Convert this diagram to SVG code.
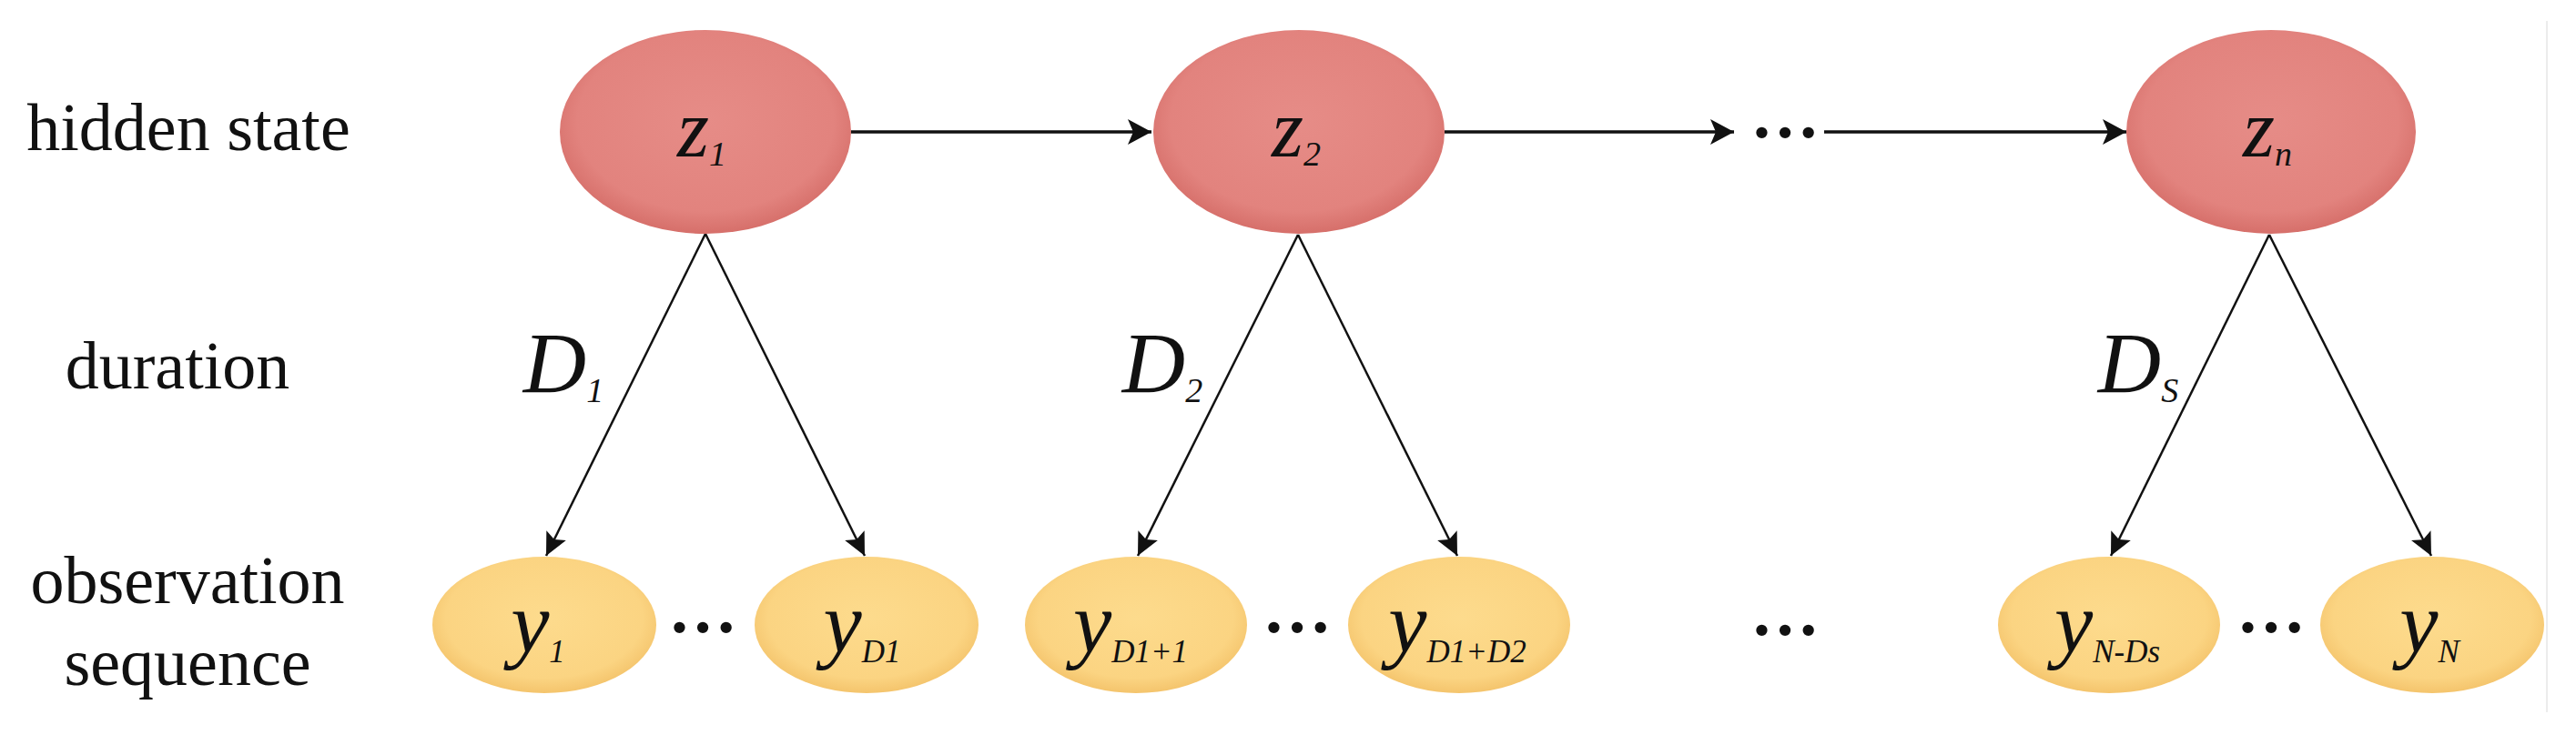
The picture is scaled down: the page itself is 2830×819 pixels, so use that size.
<svg xmlns="http://www.w3.org/2000/svg" width="2830" height="819" viewBox="0 0 2830 819">
<defs>
<radialGradient id="gRed" cx="50%" cy="45%" r="55%">
<stop offset="0%" stop-color="#e68c87"/>
<stop offset="80%" stop-color="#e2837e"/>
<stop offset="100%" stop-color="#d66f6a"/>
</radialGradient>
<radialGradient id="gYel" cx="50%" cy="45%" r="55%">
<stop offset="0%" stop-color="#fddb8d"/>
<stop offset="80%" stop-color="#fbd482"/>
<stop offset="100%" stop-color="#f4c46c"/>
</radialGradient>
<marker id="ah" markerUnits="userSpaceOnUse" markerWidth="26" markerHeight="28" refX="26" refY="14" orient="auto">
<path d="M0,0 L26,14 L0,28 L6,14 z" fill="#111"/>
</marker>
<marker id="ad" markerUnits="userSpaceOnUse" markerWidth="25" markerHeight="24" refX="25" refY="12" orient="auto">
<path d="M0,0 L25,12 L0,24 L5,12 z" fill="#111"/>
</marker>
</defs>
<style>
.lab{font-family:"Liberation Serif","Times New Roman",serif;font-size:74px;fill:#111;text-anchor:middle}
.z{fill:url(#gRed)}
.y{fill:url(#gYel)}
.it{font-family:"Liberation Serif","Times New Roman",serif;font-style:italic;fill:#111;text-anchor:middle}
.zt{font-size:90px}
.yt{font-size:95px}
.dt{font-size:96px}
.sub{font-size:38px}
.ysub{font-size:35px}
.dots{font-family:"Liberation Serif","Times New Roman",serif;font-size:76px;font-weight:bold;fill:#111;text-anchor:middle}
.h{stroke:#111;stroke-width:3.5;fill:none}
.d{stroke:#111;stroke-width:2.5;fill:none}
</style>
<rect width="2830" height="819" fill="#fff"/>
<line x1="2798" y1="23" x2="2798" y2="783" stroke="#ececec" stroke-width="2"/>

<g id="row-labels">
<text class="lab" x="207" y="165">hidden state</text>
<text class="lab" x="195" y="427">duration</text>
<text class="lab" x="206" y="663">observation</text>
<text class="lab" x="206" y="753">sequence</text>
</g>

<g id="connectors">
<line class="h" x1="935" y1="145" x2="1265" y2="145" marker-end="url(#ah)"/>
<line class="h" x1="1587" y1="145" x2="1905" y2="145" marker-end="url(#ah)"/>
<line class="h" x1="2004" y1="145" x2="2336" y2="145" marker-end="url(#ah)"/>
<line class="d" x1="775" y1="257" x2="600" y2="611" marker-end="url(#ad)"/>
<line class="d" x1="775" y1="257" x2="950" y2="611" marker-end="url(#ad)"/>
<line class="d" x1="1426" y1="258" x2="1250" y2="611" marker-end="url(#ad)"/>
<line class="d" x1="1426" y1="258" x2="1601" y2="611" marker-end="url(#ad)"/>
<line class="d" x1="2493" y1="258" x2="2319" y2="611" marker-end="url(#ad)"/>
<line class="d" x1="2493" y1="258" x2="2671" y2="611" marker-end="url(#ad)"/>
<text class="dots" x="1961" y="151">…</text>
<text class="it dt" x="619" y="432">D<tspan class="sub" dy="10">1</tspan></text>
<text class="it dt" x="1277" y="432">D<tspan class="sub" dy="10">2</tspan></text>
<text class="it dt" x="2349" y="432">D<tspan class="sub" dy="10">S</tspan></text>
</g>

<g id="z1">
<ellipse class="z" cx="775" cy="145" rx="160" ry="112"/>
<text class="it zt" x="771" y="172">z<tspan class="sub" dy="10">1</tspan></text>
</g>
<g id="z2">
<ellipse class="z" cx="1427" cy="145" rx="160" ry="112"/>
<text class="it zt" x="1424" y="172">z<tspan class="sub" dy="10">2</tspan></text>
</g>
<g id="zn">
<ellipse class="z" cx="2495" cy="145" rx="159" ry="112"/>
<text class="it zt" x="2491" y="172">z<tspan class="sub" dy="10">n</tspan></text>
</g>

<g id="y1">
<ellipse class="y" cx="598" cy="687" rx="123" ry="75"/>
<text class="it yt" x="591" y="717">y<tspan class="ysub" dy="11">1</tspan></text>
</g>
<g id="dots1"><text class="dots" x="772" y="695">…</text></g>
<g id="yD1">
<ellipse class="y" cx="952" cy="687" rx="123" ry="75"/>
<text class="it yt" x="947" y="717">y<tspan class="ysub" dy="11">D1</tspan></text>
</g>
<g id="yD1p1">
<ellipse class="y" cx="1248" cy="687" rx="122" ry="75"/>
<text class="it yt" x="1242" y="717">y<tspan class="ysub" dy="11">D1+1</tspan></text>
</g>
<g id="dots2"><text class="dots" x="1425" y="695">…</text></g>
<g id="yD1pD2">
<ellipse class="y" cx="1603" cy="687" rx="122" ry="75"/>
<text class="it yt" x="1601" y="717">y<tspan class="ysub" dy="11">D1+D2</tspan></text>
</g>
<g id="dots3"><text class="dots" x="1961" y="698">…</text></g>
<g id="yNDs">
<ellipse class="y" cx="2317" cy="687" rx="122" ry="75"/>
<text class="it yt" x="2315" y="717">y<tspan class="ysub" dy="11">N-Ds</tspan></text>
</g>
<g id="dots4"><text class="dots" x="2495" y="695">…</text></g>
<g id="yN">
<ellipse class="y" cx="2672" cy="687" rx="123" ry="75"/>
<text class="it yt" x="2669" y="717">y<tspan class="ysub" dy="11">N</tspan></text>
</g>
</svg>
